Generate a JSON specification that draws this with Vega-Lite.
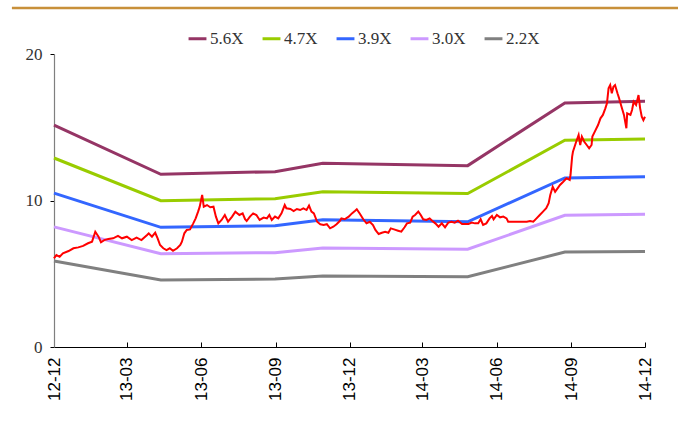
{
  "$schema": "https://vega.github.io/schema/vega-lite/v6.json",
  "width": 591,
  "height": 293,
  "autosize": {"type": "none"},
  "padding": {"left": 54, "top": 54, "right": 33, "bottom": 77},
  "background": "white",
  "config": {"view": {"stroke": null}},
  "datasets": {
    "bands": [
      {"date": "2012-12-01T00:00", "band": "5.6X", "value": 15.15},
      {"date": "2013-04-12T00:00", "band": "5.6X", "value": 11.79},
      {"date": "2013-08-31T00:00", "band": "5.6X", "value": 11.97},
      {"date": "2013-10-29T00:00", "band": "5.6X", "value": 12.54},
      {"date": "2014-04-26T00:00", "band": "5.6X", "value": 12.38},
      {"date": "2014-08-24T00:00", "band": "5.6X", "value": 16.66},
      {"date": "2014-12-01T00:00", "band": "5.6X", "value": 16.77},
      {"date": "2012-12-01T00:00", "band": "4.7X", "value": 12.9},
      {"date": "2013-04-12T00:00", "band": "4.7X", "value": 9.99},
      {"date": "2013-08-31T00:00", "band": "4.7X", "value": 10.12},
      {"date": "2013-10-29T00:00", "band": "4.7X", "value": 10.6},
      {"date": "2014-04-26T00:00", "band": "4.7X", "value": 10.47},
      {"date": "2014-08-24T00:00", "band": "4.7X", "value": 14.11},
      {"date": "2014-12-01T00:00", "band": "4.7X", "value": 14.2},
      {"date": "2012-12-01T00:00", "band": "3.9X", "value": 10.5},
      {"date": "2013-04-12T00:00", "band": "3.9X", "value": 8.17},
      {"date": "2013-08-31T00:00", "band": "3.9X", "value": 8.28},
      {"date": "2013-10-29T00:00", "band": "3.9X", "value": 8.69},
      {"date": "2014-04-26T00:00", "band": "3.9X", "value": 8.55},
      {"date": "2014-08-24T00:00", "band": "3.9X", "value": 11.54},
      {"date": "2014-12-01T00:00", "band": "3.9X", "value": 11.62},
      {"date": "2012-12-01T00:00", "band": "3.0X", "value": 8.2},
      {"date": "2013-04-12T00:00", "band": "3.0X", "value": 6.37},
      {"date": "2013-08-31T00:00", "band": "3.0X", "value": 6.44},
      {"date": "2013-10-29T00:00", "band": "3.0X", "value": 6.76},
      {"date": "2014-04-26T00:00", "band": "3.0X", "value": 6.67},
      {"date": "2014-08-24T00:00", "band": "3.0X", "value": 8.99},
      {"date": "2014-12-01T00:00", "band": "3.0X", "value": 9.06},
      {"date": "2012-12-01T00:00", "band": "2.2X", "value": 5.87},
      {"date": "2013-04-12T00:00", "band": "2.2X", "value": 4.57},
      {"date": "2013-08-31T00:00", "band": "2.2X", "value": 4.64},
      {"date": "2013-10-29T00:00", "band": "2.2X", "value": 4.85},
      {"date": "2014-04-26T00:00", "band": "2.2X", "value": 4.8},
      {"date": "2014-08-24T00:00", "band": "2.2X", "value": 6.48},
      {"date": "2014-12-01T00:00", "band": "2.2X", "value": 6.52}
    ],
    "price": [
      {"date": "2012-12-01T00:00", "value": 6.05},
      {"date": "2012-12-04T00:00", "value": 6.28},
      {"date": "2012-12-08T00:00", "value": 6.16},
      {"date": "2012-12-12T00:00", "value": 6.4},
      {"date": "2012-12-19T00:00", "value": 6.55},
      {"date": "2012-12-25T00:00", "value": 6.74},
      {"date": "2012-12-31T00:00", "value": 6.8},
      {"date": "2013-01-06T00:00", "value": 6.9},
      {"date": "2013-01-12T00:00", "value": 7.08},
      {"date": "2013-01-17T00:00", "value": 7.19},
      {"date": "2013-01-21T00:00", "value": 7.87},
      {"date": "2013-01-25T00:00", "value": 7.53},
      {"date": "2013-01-28T00:00", "value": 7.15},
      {"date": "2013-02-01T00:00", "value": 7.3},
      {"date": "2013-02-06T00:00", "value": 7.37},
      {"date": "2013-02-12T00:00", "value": 7.42},
      {"date": "2013-02-18T00:00", "value": 7.58},
      {"date": "2013-02-23T00:00", "value": 7.42},
      {"date": "2013-03-01T00:00", "value": 7.53},
      {"date": "2013-03-07T00:00", "value": 7.3},
      {"date": "2013-03-13T00:00", "value": 7.46},
      {"date": "2013-03-19T00:00", "value": 7.3},
      {"date": "2013-03-26T00:00", "value": 7.65},
      {"date": "2013-03-28T00:00", "value": 7.76},
      {"date": "2013-04-01T00:00", "value": 7.53},
      {"date": "2013-04-05T00:00", "value": 7.8},
      {"date": "2013-04-08T00:00", "value": 7.42},
      {"date": "2013-04-11T00:00", "value": 6.96},
      {"date": "2013-04-15T00:00", "value": 6.74},
      {"date": "2013-04-19T00:00", "value": 6.62},
      {"date": "2013-04-23T00:00", "value": 6.74},
      {"date": "2013-04-27T00:00", "value": 6.57},
      {"date": "2013-05-02T00:00", "value": 6.74},
      {"date": "2013-05-06T00:00", "value": 6.96},
      {"date": "2013-05-08T00:00", "value": 7.19},
      {"date": "2013-05-11T00:00", "value": 7.76},
      {"date": "2013-05-14T00:00", "value": 7.99},
      {"date": "2013-05-18T00:00", "value": 8.03},
      {"date": "2013-05-22T00:00", "value": 8.44},
      {"date": "2013-05-25T00:00", "value": 8.78},
      {"date": "2013-05-28T00:00", "value": 9.24},
      {"date": "2013-05-30T00:00", "value": 9.58},
      {"date": "2013-06-02T00:00", "value": 10.38},
      {"date": "2013-06-04T00:00", "value": 9.58},
      {"date": "2013-06-08T00:00", "value": 9.69},
      {"date": "2013-06-12T00:00", "value": 9.54},
      {"date": "2013-06-16T00:00", "value": 9.58},
      {"date": "2013-06-19T00:00", "value": 8.9},
      {"date": "2013-06-22T00:00", "value": 8.44},
      {"date": "2013-06-26T00:00", "value": 8.67},
      {"date": "2013-06-30T00:00", "value": 9.01},
      {"date": "2013-07-04T00:00", "value": 8.55},
      {"date": "2013-07-09T00:00", "value": 8.9},
      {"date": "2013-07-13T00:00", "value": 9.24},
      {"date": "2013-07-18T00:00", "value": 9.01},
      {"date": "2013-07-22T00:00", "value": 9.12},
      {"date": "2013-07-25T00:00", "value": 8.72},
      {"date": "2013-07-27T00:00", "value": 8.6},
      {"date": "2013-07-31T00:00", "value": 8.9},
      {"date": "2013-08-04T00:00", "value": 9.12},
      {"date": "2013-08-08T00:00", "value": 9.01},
      {"date": "2013-08-12T00:00", "value": 8.67},
      {"date": "2013-08-17T00:00", "value": 8.83},
      {"date": "2013-08-21T00:00", "value": 8.78},
      {"date": "2013-08-24T00:00", "value": 9.01},
      {"date": "2013-08-27T00:00", "value": 8.67},
      {"date": "2013-08-31T00:00", "value": 8.9},
      {"date": "2013-09-04T00:00", "value": 8.78},
      {"date": "2013-09-08T00:00", "value": 9.12},
      {"date": "2013-09-12T00:00", "value": 9.69},
      {"date": "2013-09-14T00:00", "value": 9.47},
      {"date": "2013-09-19T00:00", "value": 9.42},
      {"date": "2013-09-23T00:00", "value": 9.28},
      {"date": "2013-09-27T00:00", "value": 9.42},
      {"date": "2013-10-01T00:00", "value": 9.35},
      {"date": "2013-10-05T00:00", "value": 9.47},
      {"date": "2013-10-09T00:00", "value": 9.35},
      {"date": "2013-10-12T00:00", "value": 9.65},
      {"date": "2013-10-15T00:00", "value": 9.24},
      {"date": "2013-10-18T00:00", "value": 9.12},
      {"date": "2013-10-22T00:00", "value": 8.55},
      {"date": "2013-10-26T00:00", "value": 8.38},
      {"date": "2013-10-30T00:00", "value": 8.33},
      {"date": "2013-11-03T00:00", "value": 8.38},
      {"date": "2013-11-07T00:00", "value": 8.1},
      {"date": "2013-11-11T00:00", "value": 8.21},
      {"date": "2013-11-15T00:00", "value": 8.38},
      {"date": "2013-11-19T00:00", "value": 8.6},
      {"date": "2013-11-21T00:00", "value": 8.78},
      {"date": "2013-11-25T00:00", "value": 8.72},
      {"date": "2013-11-30T00:00", "value": 8.9},
      {"date": "2013-12-04T00:00", "value": 9.12},
      {"date": "2013-12-08T00:00", "value": 9.3},
      {"date": "2013-12-10T00:00", "value": 9.4},
      {"date": "2013-12-14T00:00", "value": 9.08},
      {"date": "2013-12-18T00:00", "value": 8.72},
      {"date": "2013-12-22T00:00", "value": 8.44},
      {"date": "2013-12-26T00:00", "value": 8.55},
      {"date": "2013-12-30T00:00", "value": 8.33},
      {"date": "2014-01-02T00:00", "value": 7.99},
      {"date": "2014-01-06T00:00", "value": 7.71},
      {"date": "2014-01-10T00:00", "value": 7.8},
      {"date": "2014-01-14T00:00", "value": 7.87},
      {"date": "2014-01-18T00:00", "value": 7.8},
      {"date": "2014-01-21T00:00", "value": 8.1},
      {"date": "2014-01-25T00:00", "value": 8.03},
      {"date": "2014-01-30T00:00", "value": 7.94},
      {"date": "2014-02-03T00:00", "value": 7.87},
      {"date": "2014-02-07T00:00", "value": 8.17},
      {"date": "2014-02-10T00:00", "value": 8.44},
      {"date": "2014-02-14T00:00", "value": 8.49},
      {"date": "2014-02-17T00:00", "value": 8.9},
      {"date": "2014-02-20T00:00", "value": 9.01},
      {"date": "2014-02-24T00:00", "value": 9.24},
      {"date": "2014-02-27T00:00", "value": 9.01},
      {"date": "2014-03-02T00:00", "value": 8.72},
      {"date": "2014-03-06T00:00", "value": 8.67},
      {"date": "2014-03-10T00:00", "value": 8.78},
      {"date": "2014-03-13T00:00", "value": 8.62},
      {"date": "2014-03-17T00:00", "value": 8.44},
      {"date": "2014-03-21T00:00", "value": 8.21},
      {"date": "2014-03-25T00:00", "value": 8.44},
      {"date": "2014-03-29T00:00", "value": 8.17},
      {"date": "2014-04-02T00:00", "value": 8.49},
      {"date": "2014-04-06T00:00", "value": 8.55},
      {"date": "2014-04-10T00:00", "value": 8.49},
      {"date": "2014-04-14T00:00", "value": 8.62},
      {"date": "2014-04-19T00:00", "value": 8.4},
      {"date": "2014-04-23T00:00", "value": 8.4},
      {"date": "2014-04-27T00:00", "value": 8.4},
      {"date": "2014-05-01T00:00", "value": 8.49},
      {"date": "2014-05-05T00:00", "value": 8.44},
      {"date": "2014-05-09T00:00", "value": 8.44},
      {"date": "2014-05-12T00:00", "value": 8.72},
      {"date": "2014-05-15T00:00", "value": 8.33},
      {"date": "2014-05-19T00:00", "value": 8.44},
      {"date": "2014-05-23T00:00", "value": 8.78},
      {"date": "2014-05-26T00:00", "value": 8.94},
      {"date": "2014-05-28T00:00", "value": 8.72},
      {"date": "2014-06-01T00:00", "value": 9.01},
      {"date": "2014-06-05T00:00", "value": 8.85},
      {"date": "2014-06-09T00:00", "value": 8.9},
      {"date": "2014-06-13T00:00", "value": 8.78},
      {"date": "2014-06-15T00:00", "value": 8.55},
      {"date": "2014-06-21T00:00", "value": 8.55},
      {"date": "2014-06-30T00:00", "value": 8.55},
      {"date": "2014-07-08T00:00", "value": 8.55},
      {"date": "2014-07-12T00:00", "value": 8.6},
      {"date": "2014-07-16T00:00", "value": 8.55},
      {"date": "2014-07-20T00:00", "value": 8.78},
      {"date": "2014-07-24T00:00", "value": 9.01},
      {"date": "2014-07-28T00:00", "value": 9.24},
      {"date": "2014-08-01T00:00", "value": 9.47},
      {"date": "2014-08-04T00:00", "value": 9.81},
      {"date": "2014-08-06T00:00", "value": 10.38},
      {"date": "2014-08-09T00:00", "value": 10.94},
      {"date": "2014-08-12T00:00", "value": 10.6},
      {"date": "2014-08-15T00:00", "value": 10.83},
      {"date": "2014-08-18T00:00", "value": 11.06},
      {"date": "2014-08-22T00:00", "value": 11.28},
      {"date": "2014-08-26T00:00", "value": 11.52},
      {"date": "2014-08-30T00:00", "value": 11.4},
      {"date": "2014-08-31T00:00", "value": 11.74},
      {"date": "2014-09-02T00:00", "value": 12.99},
      {"date": "2014-09-03T00:00", "value": 13.33},
      {"date": "2014-09-07T00:00", "value": 14.01},
      {"date": "2014-09-10T00:00", "value": 14.47},
      {"date": "2014-09-12T00:00", "value": 13.79},
      {"date": "2014-09-14T00:00", "value": 14.36},
      {"date": "2014-09-17T00:00", "value": 14.01},
      {"date": "2014-09-20T00:00", "value": 13.79},
      {"date": "2014-09-23T00:00", "value": 13.56},
      {"date": "2014-09-26T00:00", "value": 13.79},
      {"date": "2014-09-27T00:00", "value": 14.36},
      {"date": "2014-09-30T00:00", "value": 14.7},
      {"date": "2014-10-04T00:00", "value": 15.15},
      {"date": "2014-10-07T00:00", "value": 15.61},
      {"date": "2014-10-10T00:00", "value": 15.84},
      {"date": "2014-10-13T00:00", "value": 16.29},
      {"date": "2014-10-15T00:00", "value": 16.63},
      {"date": "2014-10-17T00:00", "value": 17.66},
      {"date": "2014-10-19T00:00", "value": 17.88},
      {"date": "2014-10-21T00:00", "value": 17.32},
      {"date": "2014-10-23T00:00", "value": 17.77},
      {"date": "2014-10-25T00:00", "value": 17.88},
      {"date": "2014-10-28T00:00", "value": 17.32},
      {"date": "2014-10-30T00:00", "value": 16.98},
      {"date": "2014-11-02T00:00", "value": 16.4},
      {"date": "2014-11-05T00:00", "value": 15.84},
      {"date": "2014-11-08T00:00", "value": 14.93},
      {"date": "2014-11-09T00:00", "value": 15.95},
      {"date": "2014-11-13T00:00", "value": 15.84},
      {"date": "2014-11-15T00:00", "value": 16.18},
      {"date": "2014-11-17T00:00", "value": 16.74},
      {"date": "2014-11-20T00:00", "value": 16.52},
      {"date": "2014-11-23T00:00", "value": 17.2},
      {"date": "2014-11-25T00:00", "value": 16.29},
      {"date": "2014-11-27T00:00", "value": 15.72},
      {"date": "2014-11-29T00:00", "value": 15.49},
      {"date": "2014-12-01T00:00", "value": 15.72}
    ]
  },
  "layer": [
    {
      "data": {"values": [{}]},
      "mark": {"type": "rule", "color": "#C8903A", "strokeWidth": 2.5, "clip": false},
      "encoding": {
        "x": {"datum": {"year": 2012, "month": 10, "date": 10}, "type": "temporal",
              "scale": {"domain": [{"year": 2012, "month": 12, "date": 1}, {"year": 2014, "month": 12, "date": 1}]}},
        "x2": {"datum": {"year": 2015, "month": 1, "date": 12}},
        "y": {"datum": 23.14, "type": "quantitative", "scale": {"domain": [0, 20]}}
      }
    },
    {
      "data": {"name": "bands"},
      "mark": {"type": "line", "strokeWidth": 3, "clip": false},
      "encoding": {
        "x": {
          "field": "date", "type": "temporal",
          "scale": {"domain": [{"year": 2012, "month": 12, "date": 1}, {"year": 2014, "month": 12, "date": 1}]},
          "axis": {
            "title": null,
            "format": "%y-%m",
            "values": [
              {"year": 2012, "month": 12, "date": 1},
              {"year": 2013, "month": 3, "date": 1},
              {"year": 2013, "month": 6, "date": 1},
              {"year": 2013, "month": 9, "date": 1},
              {"year": 2013, "month": 12, "date": 1},
              {"year": 2014, "month": 3, "date": 1},
              {"year": 2014, "month": 6, "date": 1},
              {"year": 2014, "month": 9, "date": 1},
              {"year": 2014, "month": 12, "date": 1}
            ],
            "labelAngle": -90,
            "labelFont": "Liberation Sans",
            "labelFontSize": 17,
            "labelColor": "#000000",
            "labelPadding": 15,
            "labelFlush": false,
            "labelOverlap": false,
            "domainColor": "#000000",
            "domainWidth": 1.2,
            "tickColor": "#000000",
            "tickSize": -5,
            "grid": false
          }
        },
        "y": {
          "field": "value", "type": "quantitative",
          "scale": {"domain": [0, 20], "nice": false},
          "axis": {
            "title": null,
            "values": [0, 10, 20],
            "labelFont": "Liberation Serif",
            "labelFontSize": 17,
            "labelColor": "#333333",
            "labelPadding": 8,
            "domainColor": "#7f7f7f",
            "domainWidth": 1.2,
            "tickColor": "#000000",
            "tickSize": 4,
            "grid": false
          }
        },
        "color": {
          "field": "band", "type": "nominal",
          "scale": {
            "domain": ["5.6X", "4.7X", "3.9X", "3.0X", "2.2X"],
            "range": ["#953565", "#99CC00", "#3366FF", "#CC99FF", "#808080"]
          },
          "legend": {
            "title": null,
            "orient": "none",
            "direction": "horizontal",
            "legendX": 133,
            "legendY": -26,
            "symbolType": "stroke",
            "symbolStrokeWidth": 3,
            "symbolSize": 320,
            "labelFont": "Liberation Serif",
            "labelFontSize": 17,
            "labelColor": "#333333",
            "labelOffset": 2,
            "columnPadding": 12
          }
        }
      }
    },
    {
      "data": {"name": "price"},
      "mark": {"type": "line", "strokeWidth": 2, "color": "#FF0000", "clip": false},
      "encoding": {
        "x": {"field": "date", "type": "temporal"},
        "y": {"field": "value", "type": "quantitative"}
      }
    }
  ]
}
